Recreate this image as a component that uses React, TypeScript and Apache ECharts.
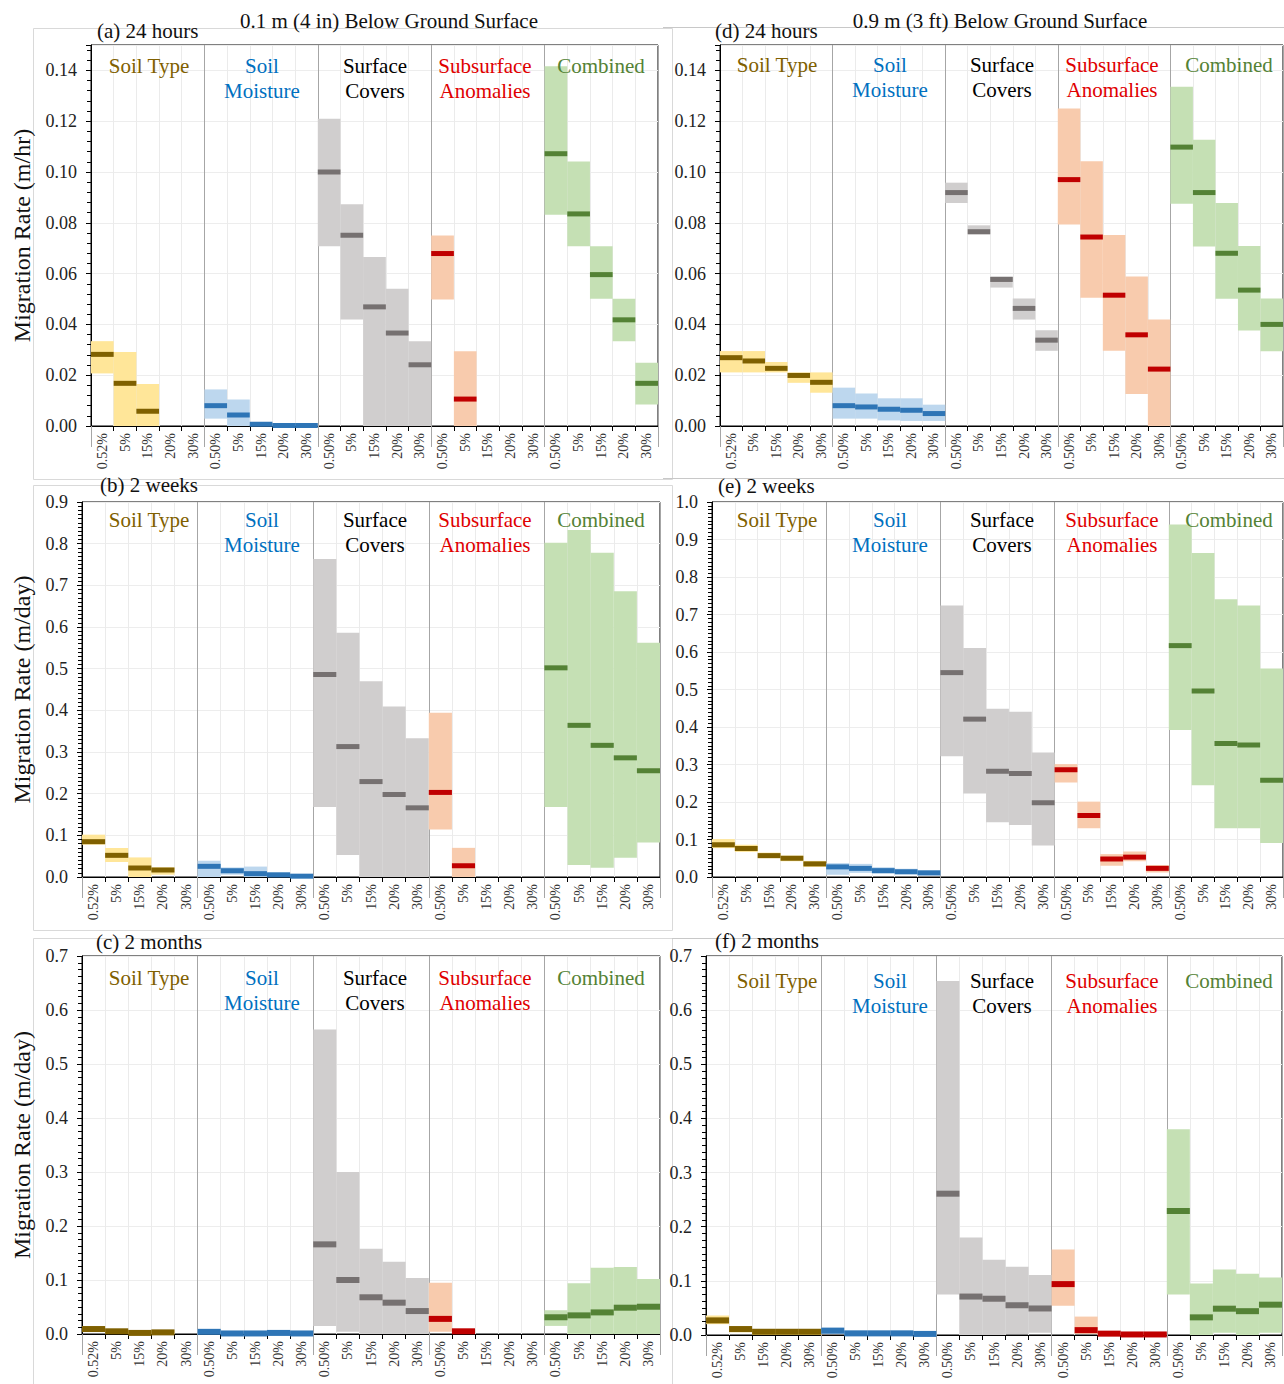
import React, { useEffect, useRef } from "react";
import * as echarts from "echarts";

// ---------- categories ----------
const GROUP_TITLES = [["Soil Type"], ["Soil", "Moisture"], ["Surface", "Covers"], ["Subsurface", "Anomalies"], ["Combined"]];
const SOIL_TYPE_LEVELS = ["0.52%", "5%", "15%", "20%", "30%"];
const OTHER_LEVELS = ["0.50%", "5%", "15%", "20%", "30%"];

// ---------- (a) 24 hours, 0.1 m ----------
const a_low = [0.0207, 0, 0, null, null, 0.0029, 0, 0, 0, 0, 0.0708, 0.0419, 0, 0, 0, 0.0498, 0, null, null, null, 0.0832, 0.0708, 0.0501, 0.0334, 0.0085];
const a_high = [0.0334, 0.0291, 0.0165, null, null, 0.0144, 0.0104, 0.0012, 0.0006, 0.0006, 0.121, 0.0873, 0.0665, 0.054, 0.0334, 0.075, 0.0294, null, null, null, 0.1416, 0.1041, 0.0708, 0.0501, 0.0249];
const a_med = [0.0282, 0.0168, 0.0058, null, null, 0.008, 0.0043, 0.0007, 0.0002, 0.0002, 0.1, 0.0751, 0.0469, 0.0366, 0.0241, 0.0679, 0.0106, null, null, null, 0.1072, 0.0835, 0.0596, 0.0418, 0.0168];

// ---------- (b) 2 weeks, 0.1 m ----------
const b_low = [0.0776, 0.036, 0, 0.0056, null, 0, 0.0056, 0, 0, 0, 0.168, 0.053, 0, 0, 0, 0.114, 0, null, null, null, 0.168, 0.029, 0.022, 0.046, 0.083];
const b_high = [0.1016, 0.0696, 0.047, 0.023, null, 0.039, 0.023, 0.025, 0.012, 0.006, 0.763, 0.586, 0.47, 0.409, 0.333, 0.394, 0.07, null, null, null, 0.802, 0.833, 0.778, 0.686, 0.562];
const b_med = [0.0848, 0.052, 0.0216, 0.0168, null, 0.0256, 0.015, 0.008, 0.005, 0.002, 0.486, 0.313, 0.229, 0.198, 0.166, 0.203, 0.027, null, null, null, 0.502, 0.364, 0.316, 0.286, 0.255];

// ---------- (c) 2 months, 0.1 m ----------
const c_low = [0.004, 0.001, 0, 0, null, 0, 0, 0, 0, 0, 0.015, 0.004, 0, 0, 0, 0.004, 0, null, null, null, 0.015, 0, 0, 0, 0];
const c_high = [0.014, 0.009, 0.006, 0.007, null, 0.009, 0.004, 0.004, 0.005, 0.004, 0.564, 0.3, 0.158, 0.134, 0.1035, 0.095, 0.009, null, null, null, 0.044, 0.094, 0.1226, 0.124, 0.102];
const c_med = [0.0092, 0.005, 0.002, 0.003, null, 0.004, 0.001, 0.001, 0.002, 0.001, 0.166, 0.1, 0.068, 0.058, 0.0425, 0.028, 0.005, null, null, null, 0.031, 0.0345, 0.04, 0.0487, 0.0505];

// ---------- (d) 24 hours, 0.9 m ----------
const d_low = [0.0211, 0.0211, 0.0211, 0.017, 0.0131, 0.0029, 0.0029, 0.0022, 0.002, 0.002, 0.0878, 0.0754, 0.0545, 0.0419, 0.0296, 0.0793, 0.0505, 0.0296, 0.0126, 0, 0.0875, 0.0707, 0.0501, 0.0376, 0.0294];
const d_high = [0.0295, 0.0295, 0.0252, 0.0211, 0.0211, 0.0151, 0.0128, 0.0109, 0.0109, 0.0084, 0.0958, 0.079, 0.0589, 0.0502, 0.0377, 0.125, 0.1042, 0.0752, 0.0589, 0.0419, 0.1336, 0.1127, 0.0878, 0.0709, 0.0502];
const d_med = [0.0269, 0.0256, 0.0227, 0.0199, 0.0172, 0.008, 0.0075, 0.0066, 0.0062, 0.0049, 0.0919, 0.0765, 0.0577, 0.0463, 0.0338, 0.097, 0.0744, 0.0515, 0.0359, 0.0224, 0.1098, 0.0919, 0.068, 0.0535, 0.04];

// ---------- (e) 2 weeks, 0.9 m ----------
const e_low = [0.077, 0.067, 0.05, 0.042, 0.027, 0.006, 0.011, 0.009, 0.007, 0.004, 0.322, 0.223, 0.146, 0.139, 0.084, 0.252, 0.13, 0.03, 0.042, 0.012, 0.392, 0.245, 0.13, 0.13, 0.091];
const e_high = [0.101, 0.086, 0.065, 0.057, 0.043, 0.037, 0.035, 0.026, 0.022, 0.018, 0.724, 0.611, 0.449, 0.441, 0.332, 0.301, 0.201, 0.061, 0.068, 0.032, 0.94, 0.864, 0.741, 0.724, 0.556];
const e_med = [0.086, 0.076, 0.057, 0.05, 0.035, 0.027, 0.023, 0.017, 0.014, 0.011, 0.545, 0.421, 0.282, 0.276, 0.198, 0.286, 0.164, 0.048, 0.053, 0.023, 0.617, 0.496, 0.356, 0.352, 0.258];

// ---------- (f) 2 months, 0.9 m ----------
const f_low = [0.02, 0.005, 0, 0, 0, 0.002, 0, 0, 0, 0, 0.075, 0, 0, 0.002, 0.004, 0.054, 0.002, 0, 0, 0, 0.075, 0, 0.004, 0, 0.004];
const f_high = [0.036, 0.016, 0.011, 0.011, 0.011, 0.0135, 0.008, 0.008, 0.008, 0.007, 0.654, 0.18, 0.139, 0.126, 0.111, 0.158, 0.034, 0.006, 0.004, 0.004, 0.38, 0.095, 0.121, 0.113, 0.106];
const f_med = [0.027, 0.011, 0.006, 0.006, 0.006, 0.008, 0.003, 0.003, 0.003, 0.002, 0.261, 0.071, 0.067, 0.055, 0.049, 0.094, 0.009, 0.0025, 0.001, 0.001, 0.229, 0.0326, 0.0486, 0.044, 0.056];

// ---------- styles / layout ----------
const FONT = '"Liberation Serif", "Times New Roman", serif';
const RANGE_COLORS = ["#FFE699", "#BDD7EE", "#D0CECE", "#F8CBAD", "#C5E0B4"];
const MED_COLORS = ["#7F6000", "#2E75B6", "#767171", "#C00000", "#548235"];
const TITLE_COLORS = ["#806000", "#0070C0", "#000000", "#E00000", "#548235"];
const TITLE_X_LEFT = [149, 262, 375, 485, 601];
const TITLE_X_RIGHT = [777, 890, 1002, 1112, 1229];

const PANELS = [
  { low: a_low, high: a_high, med: a_med, grid: { left: 91, top: 45, width: 567, height: 381 }, max: 0.15, interval: 0.02, dec: 2, minor: 5, medH: 5, yName: "Migration Rate (m/hr)", nameGap: 57, label: "(a) 24 hours", lx: 97, ly: 31, tOff: 21, tx: TITLE_X_LEFT },
  { low: b_low, high: b_high, med: b_med, grid: { left: 82, top: 502, width: 578, height: 375 }, max: 0.9, interval: 0.1, dec: 1, minor: 10, medH: 5, yName: "Migration Rate (m/day)", nameGap: 48, label: "(b) 2 weeks", lx: 100, ly: 485, tOff: 18, tx: TITLE_X_LEFT },
  { low: c_low, high: c_high, med: c_med, grid: { left: 82, top: 956, width: 578, height: 378 }, max: 0.7, interval: 0.1, dec: 1, minor: 8, medH: 6, yName: "Migration Rate (m/day)", nameGap: 48, label: "(c) 2 months", lx: 96, ly: 942, tOff: 22, tx: TITLE_X_LEFT },
  { low: d_low, high: d_high, med: d_med, grid: { left: 720, top: 45, width: 563, height: 381 }, max: 0.15, interval: 0.02, dec: 2, minor: 5, medH: 5, yName: "", nameGap: 0, label: "(d) 24 hours", lx: 715, ly: 31, tOff: 20, tx: TITLE_X_RIGHT },
  { low: e_low, high: e_high, med: e_med, grid: { left: 712, top: 502, width: 571, height: 375 }, max: 1.0, interval: 0.1, dec: 1, minor: 10, medH: 5, yName: "", nameGap: 0, label: "(e) 2 weeks", lx: 718, ly: 486, tOff: 18, tx: TITLE_X_RIGHT },
  { low: f_low, high: f_high, med: f_med, grid: { left: 706, top: 956, width: 576, height: 379 }, max: 0.7, interval: 0.1, dec: 1, minor: 8, medH: 6, yName: "", nameGap: 0, label: "(f) 2 months", lx: 715, ly: 941, tOff: 25, tx: TITLE_X_RIGHT },
];

const CATEGORIES: string[] = [];
for (let g = 0; g < 5; g++) {
  const lv = g === 0 ? SOIL_TYPE_LEVELS : OTHER_LEVELS;
  lv.forEach((l) => CATEGORIES.push(g + "|" + l));
}

function buildOption() {
  const grid: any[] = [];
  const xAxis: any[] = [];
  const yAxis: any[] = [];
  const series: any[] = [];
  const graphic: any[] = [];

  PANELS.forEach((p, k) => {
    grid.push({ ...p.grid, show: true, borderColor: "#000", borderWidth: 1, backgroundColor: "transparent" });
    xAxis.push({
      type: "category",
      gridIndex: k,
      data: CATEGORIES,
      position: "bottom",
      axisLine: { show: true, onZero: false, lineStyle: { color: "#000", width: 1 } },
      axisTick: { show: true, interval: 0, length: 5, lineStyle: { color: "#000" } },
      axisLabel: {
        interval: 0,
        rotate: 90,
        margin: 7,
        fontFamily: FONT,
        fontSize: 14,
        color: "#333",
        formatter: (v: string) => v.split("|")[1],
      },
      splitLine: {
        show: true,
        interval: 0,
        lineStyle: { color: ["#A6A6A6", "#EBEBEB", "#EBEBEB", "#EBEBEB", "#EBEBEB"], width: 1 },
      },
    });
    xAxis.push({
      type: "category",
      gridIndex: k,
      data: CATEGORIES,
      position: "bottom",
      axisLine: { show: false },
      axisTick: { show: true, interval: 4, length: 21, lineStyle: { color: "#A6A6A6" } },
      axisLabel: { show: false, interval: 4 },
      splitLine: { show: false },
    });
    const step = p.interval;
    yAxis.push({
      type: "value",
      gridIndex: k,
      min: 0,
      max: p.max,
      interval: step,
      name: p.yName,
      nameLocation: "middle",
      nameGap: p.nameGap,
      nameTextStyle: { fontFamily: FONT, fontSize: 24, color: "#111" },
      axisLine: { show: true, lineStyle: { color: "#000", width: 1 } },
      axisTick: { show: true, length: 5, lineStyle: { color: "#000" } },
      minorTick: { show: true, splitNumber: p.minor, length: 4, lineStyle: { color: "#000" } },
      splitLine: { show: true, lineStyle: { color: "#EDEDED", width: 1 } },
      axisLabel: {
        fontFamily: FONT,
        fontSize: 18,
        color: "#222",
        margin: 14,
        formatter: (v: number) => {
          const r = v / step;
          return Math.abs(r - Math.round(r)) < 1e-6 ? v.toFixed(p.dec) : "";
        },
      },
    });

    const data: any[] = [];
    for (let i = 0; i < 25; i++) {
      if (p.low[i] == null || p.high[i] == null || p.med[i] == null) continue;
      data.push([i, p.low[i], p.high[i], p.med[i]]);
    }
    series.push({
      type: "custom",
      xAxisIndex: 2 * k,
      yAxisIndex: k,
      data,
      encode: { x: 0, y: [1, 2] },
      clip: false,
      silent: true,
      renderItem: (params: any, api: any) => {
        const i = api.value(0);
        const g = Math.floor(i / 5);
        const lo = api.coord([i, api.value(1)]);
        const hi = api.coord([i, api.value(2)]);
        const w = api.size([1, 0])[0];
        return {
          type: "rect",
          shape: { x: lo[0] - w / 2, y: hi[1], width: w, height: Math.max(lo[1] - hi[1], 0.5) },
          style: { fill: RANGE_COLORS[g] },
        };
      },
    });
    const mh = p.medH;
    series.push({
      type: "custom",
      xAxisIndex: 2 * k,
      yAxisIndex: k,
      data,
      encode: { x: 0, y: 3 },
      clip: false,
      silent: true,
      z: 3,
      renderItem: (params: any, api: any) => {
        const i = api.value(0);
        const g = Math.floor(i / 5);
        const m = api.coord([i, api.value(3)]);
        const w = api.size([1, 0])[0];
        return {
          type: "rect",
          shape: { x: m[0] - w / 2, y: m[1] - mh / 2, width: w, height: mh },
          style: { fill: MED_COLORS[g] },
        };
      },
    });

    // group titles
    for (let g = 0; g < 5; g++) {
      graphic.push({
        type: "text",
        x: p.tx[g],
        y: p.grid.top + p.tOff - 12.5,
        z: 10,
        style: {
          text: GROUP_TITLES[g].join("\n"),
          fontFamily: FONT,
          fontSize: 21,
          lineHeight: 25,
          fill: TITLE_COLORS[g],
          align: "center",
          verticalAlign: "top",
        },
      });
    }
    graphic.push({
      type: "text",
      x: p.lx,
      y: p.ly,
      z: 10,
      style: { text: p.label, fontFamily: FONT, fontSize: 21, fill: "#111", align: "left", verticalAlign: "middle" },
    });
  });

  // outer panel frames
  const frame = { stroke: "#D9D9D9", lineWidth: 1, fill: "none" };
  [[33, 28, 639, 451], [33, 485, 639, 445], [33, 938, 639, 446]].forEach((r) => {
    graphic.push({ type: "rect", z: 0, shape: { x: r[0] + 0.5, y: r[1] + 0.5, width: r[2], height: r[3] }, style: frame });
  });
  [[663, 27], [663, 478], [672, 938]].forEach((l) => {
    graphic.push({ type: "line", z: 0, shape: { x1: l[0], y1: l[1] + 0.5, x2: 1284, y2: l[1] + 0.5 }, style: { stroke: "#C8C8C8", lineWidth: 1 } });
  });
  graphic.push({
    type: "text", x: 389, y: 21, z: 10,
    style: { text: "0.1 m (4 in) Below Ground Surface", fontFamily: FONT, fontSize: 21, fill: "#111", align: "center", verticalAlign: "middle" },
  });
  graphic.push({
    type: "text", x: 1000, y: 21, z: 10,
    style: { text: "0.9 m (3 ft) Below Ground Surface", fontFamily: FONT, fontSize: 21, fill: "#111", align: "center", verticalAlign: "middle" },
  });

  return { animation: false, backgroundColor: "#fff", grid, xAxis, yAxis, series, graphic };
}

export default function App() {
  const ref = useRef<HTMLDivElement>(null);
  useEffect(() => {
    if (!ref.current) return;
    const chart = echarts.init(ref.current, undefined, { renderer: "svg" });
    chart.setOption(buildOption() as any);
    return () => chart.dispose();
  }, []);
  return <div ref={ref} style={{ position: "absolute", left: 0, top: 0, width: 1284, height: 1384 }} />;
}
